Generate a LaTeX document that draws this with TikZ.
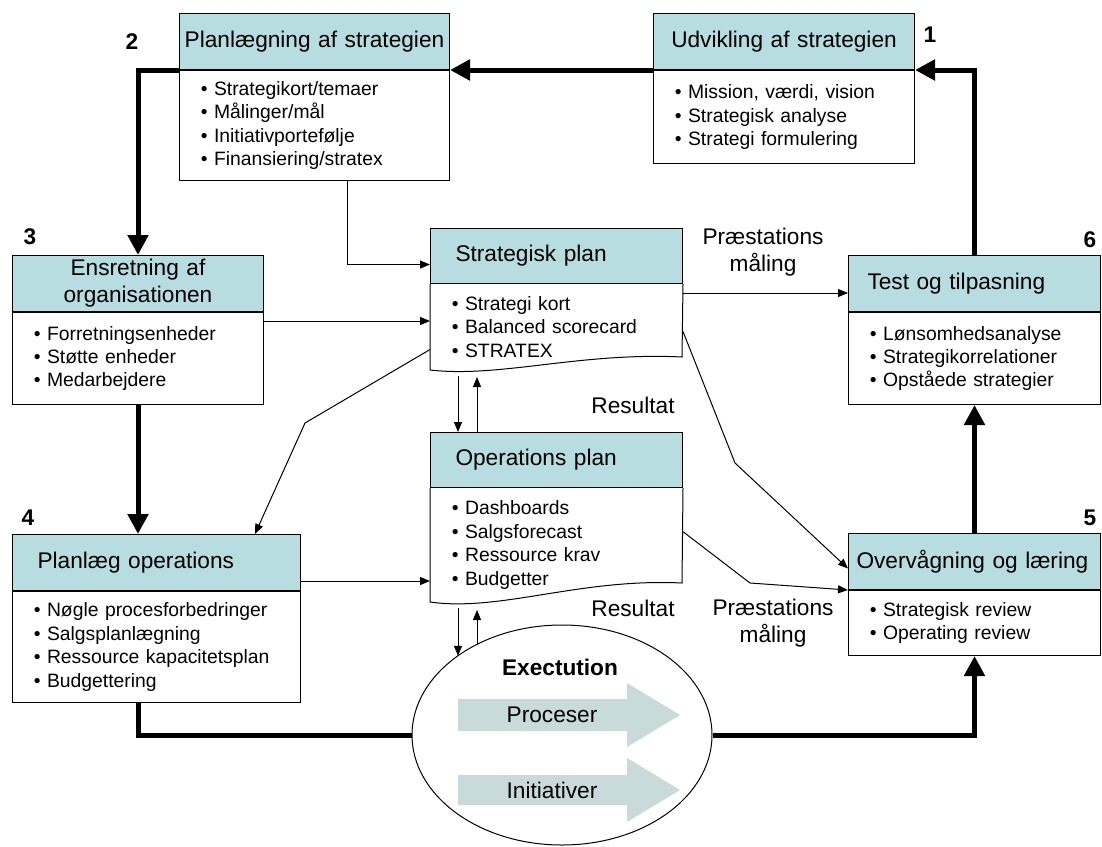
\documentclass[tikz,border=0pt]{standalone}
\usepackage{fontspec}
\setmainfont{Liberation Sans}
\usetikzlibrary{arrows.meta,positioning,shapes.geometric}
\definecolor{hdrfill}{RGB}{183,221,224}
\definecolor{blockfill}{RGB}{200,218,218}
\newcommand{\hdrfont}{\fontsize{17}{20.25}\selectfont}
\newcommand{\bodyfont}{\fontsize{14.5}{17.6}\selectfont}

\begin{document}
\begin{tikzpicture}[x=0.75pt, y=-0.75pt,
        hdr/.style={draw, line width=0.75pt, fill=hdrfill, anchor=north west, inner ysep=0pt, minimum height=42pt, font=\hdrfont},
        body/.style={draw, line width=0.75pt, fill=white, inner xsep=16pt, inner ysep=0pt, align=left, font=\bodyfont},
        thin/.style={-{Triangle[length=7.5pt,width=6pt]}, line width=0.75pt},
        flow/.style={-{Triangle[length=15pt,width=15pt]}, line width=3.75pt},
        lbl/.style={font=\hdrfont, align=center},
        num/.style={font=\hdrfont\bfseries}]
    \useasboundingbox (0,0) rectangle (1102,846);

        % boxes around the cycle
        \node[hdr, inner xsep=0pt, text width=195.75pt, align=center] (dev-hdr) at (653,13) {Udvikling af strategien};
        \node[body, below=0pt of dev-hdr, text width=163.75pt, minimum height=69.75pt] (dev-body) {• Mission, værdi, vision\\• Strategisk analyse\\• Strategi formulering};

        \node[hdr, inner xsep=0pt, text width=202.5pt, align=center] (plan-hdr) at (179,13) {Planlægning af strategien};
        \node[body, below=0pt of plan-hdr, text width=170.5pt, minimum height=82.5pt] (plan-body) {• Strategikort/temaer\\• Målinger/mål\\• Initiativportefølje\\• Finansiering/stratex};

        \node[hdr, inner xsep=0pt, text width=188.25pt, align=center] (align-hdr) at (12,255) {Ensretning af\\organisationen};
        \node[body, below=0pt of align-hdr, text width=156.25pt, minimum height=69pt] (align-body) {• Forretningsenheder\\• Støtte enheder\\• Medarbejdere};

        \node[hdr, inner xsep=18.75pt, text width=178.5pt, align=left] (ops-hdr) at (12,534) {Planlæg operations};
        \node[body, below=0pt of ops-hdr, text width=184pt, minimum height=83.25pt] (ops-body) {• Nøgle procesforbedringer\\• Salgsplanlægning\\• Ressource kapacitetsplan\\• Budgettering};

        \node[hdr, inner xsep=6pt, text width=177pt, align=left] (mon-hdr) at (848,533) {Overvågning og læring};
        \node[body, below=0pt of mon-hdr, text width=157pt, minimum height=48.75pt] (mon-body) {• Strategisk review\\• Operating review};

        \node[hdr, inner xsep=14.25pt, text width=160.5pt, align=left] (test-hdr) at (848,255) {Test og tilpasning};
        \node[body, below=0pt of test-hdr, text width=157pt, minimum height=69pt] (test-body) {• Lønsomhedsanalyse\\• Strategikorrelationer\\• Opståede strategier};

        % plans in the middle
        \node[hdr, inner xsep=18.75pt, text width=151.5pt, align=left, minimum height=41.25pt] (sp-hdr) at (430,228) {Strategisk plan};
        \node[body, draw=none, fill=none, below=0pt of sp-hdr, text width=157pt, minimum height=63.75pt] (sp-body) {• Strategi kort\\• Balanced scorecard\\• STRATEX};
        \draw[line width=0.75pt] (sp-body.north west) -- (sp-body.south west) .. controls (500,378) and (580,352) .. (682,357) -- (sp-body.north east);

        \node[hdr, inner xsep=18.75pt, text width=151.5pt, align=left, minimum height=41.25pt] (op-hdr) at (430,432) {Operations plan};
        \node[body, draw=none, fill=none, below=0pt of op-hdr, text width=157pt, minimum height=84.75pt] (op-body) {• Dashboards\\• Salgsforecast\\• Ressource krav\\• Budgetter};
        \draw[line width=0.75pt] (op-body.north west) -- (op-body.south west) .. controls (500,612) and (580,578) .. (682,583) -- (op-body.north east);

        % execution
        \node[ellipse, draw, line width=0.75pt, minimum width=225pt, minimum height=165pt] (exec) at (562,735) {};
        \node[font=\hdrfont\bfseries] (exec-title) at (560,667) {Exectution};
        \fill[blockfill] (458,699) -- (627,699) -- (627,683) -- (680,715) -- (627,747) -- (627,731) -- (458,731) -- cycle;
        \node[lbl] (proc) at (552,715) {Proceser};
        \fill[blockfill] (458,775) -- (627,775) -- (627,758) -- (680,790) -- (627,822) -- (627,805) -- (458,805) -- cycle;
        \node[lbl] (init) at (552,790) {Initiativer};

        % step numbers
        \node[num] (n1) at (930,35) {1};
        \node[num] (n2) at (132,42) {2};
        \node[num] (n3) at (30,237) {3};
        \node[num] (n4) at (28,518) {4};
        \node[num] (n5) at (1090,518) {5};
        \node[num] (n6) at (1090,240) {6};

        % main cycle
        \draw[flow] (dev-hdr.south west) -- (plan-hdr.south east);
        \draw[flow] (test-hdr.north) |- (dev-hdr.south east);
        \draw[flow] (plan-hdr.south west) -| (align-hdr.north);
        \draw[flow] (align-body.south) -- (align-body.south |- ops-hdr.north);
        \draw[line width=3.75pt] (align-body.south |- ops-body.south) |- (exec.west);
        \draw[flow] (exec.east) -| (mon-body.south);
        \draw[flow] (mon-hdr.north) -- (test-body.south);

        % thin connectors
        \draw[thin] ([xshift=24.75pt]plan-body.south) |- ([yshift=-6.4pt]sp-hdr.west);
        \draw[thin] ([yshift=-6.75pt]align-body.north east) -- ([yshift=-6.75pt]align-body.north east -| sp-body.west);
        \coordinate (sp-bend) at (305,423);
        \draw[thin] ([yshift=-16.9pt]sp-body.west) -- (sp-bend) -- ([xshift=-34.5pt]ops-hdr.north east);
        \draw[thin] ([yshift=7.5pt]ops-hdr.south east) -- ([yshift=7.5pt]ops-hdr.south east -| op-body.west);

        \coordinate (sp-down) at (458,376);
        \coordinate (sp-up) at (477,377);
        \draw[thin] (sp-down) -- (sp-down |- op-hdr.north);
        \draw[thin] (sp-up |- op-hdr.north) -- (sp-up);
        \coordinate (op-down) at (458,608);
        \coordinate (op-up) at (477,610);
        \draw[thin] (op-down) -- (op-down |- exec.143);
        \draw[thin] (op-up |- exec.133) -- (op-up);
        \node[lbl] (res-top) at (633,405) {Resultat};
        \node[lbl] (res-low) at (633,608) {Resultat};

        \draw[thin] ([yshift=-6.75pt]sp-body.north east) -- ([yshift=-6.75pt]sp-body.north east -| test-hdr.west);
        \node[lbl] (perf-top) at (763,252) {Præstations\\måling};
        \coordinate (sp-bend2) at (735,463);
        \draw[thin] ([yshift=-3.4pt]sp-body.east) -- (sp-bend2) -- ([yshift=-5.25pt]mon-hdr.west);
        \coordinate (op-bend) at (750,583);
        \draw[thin] ([yshift=10pt]op-body.east) -- (op-bend) -- (mon-hdr.south west);
        \node[lbl] (perf-low) at (773,623) {Præstations\\måling};
    \end{tikzpicture}
\end{document}
